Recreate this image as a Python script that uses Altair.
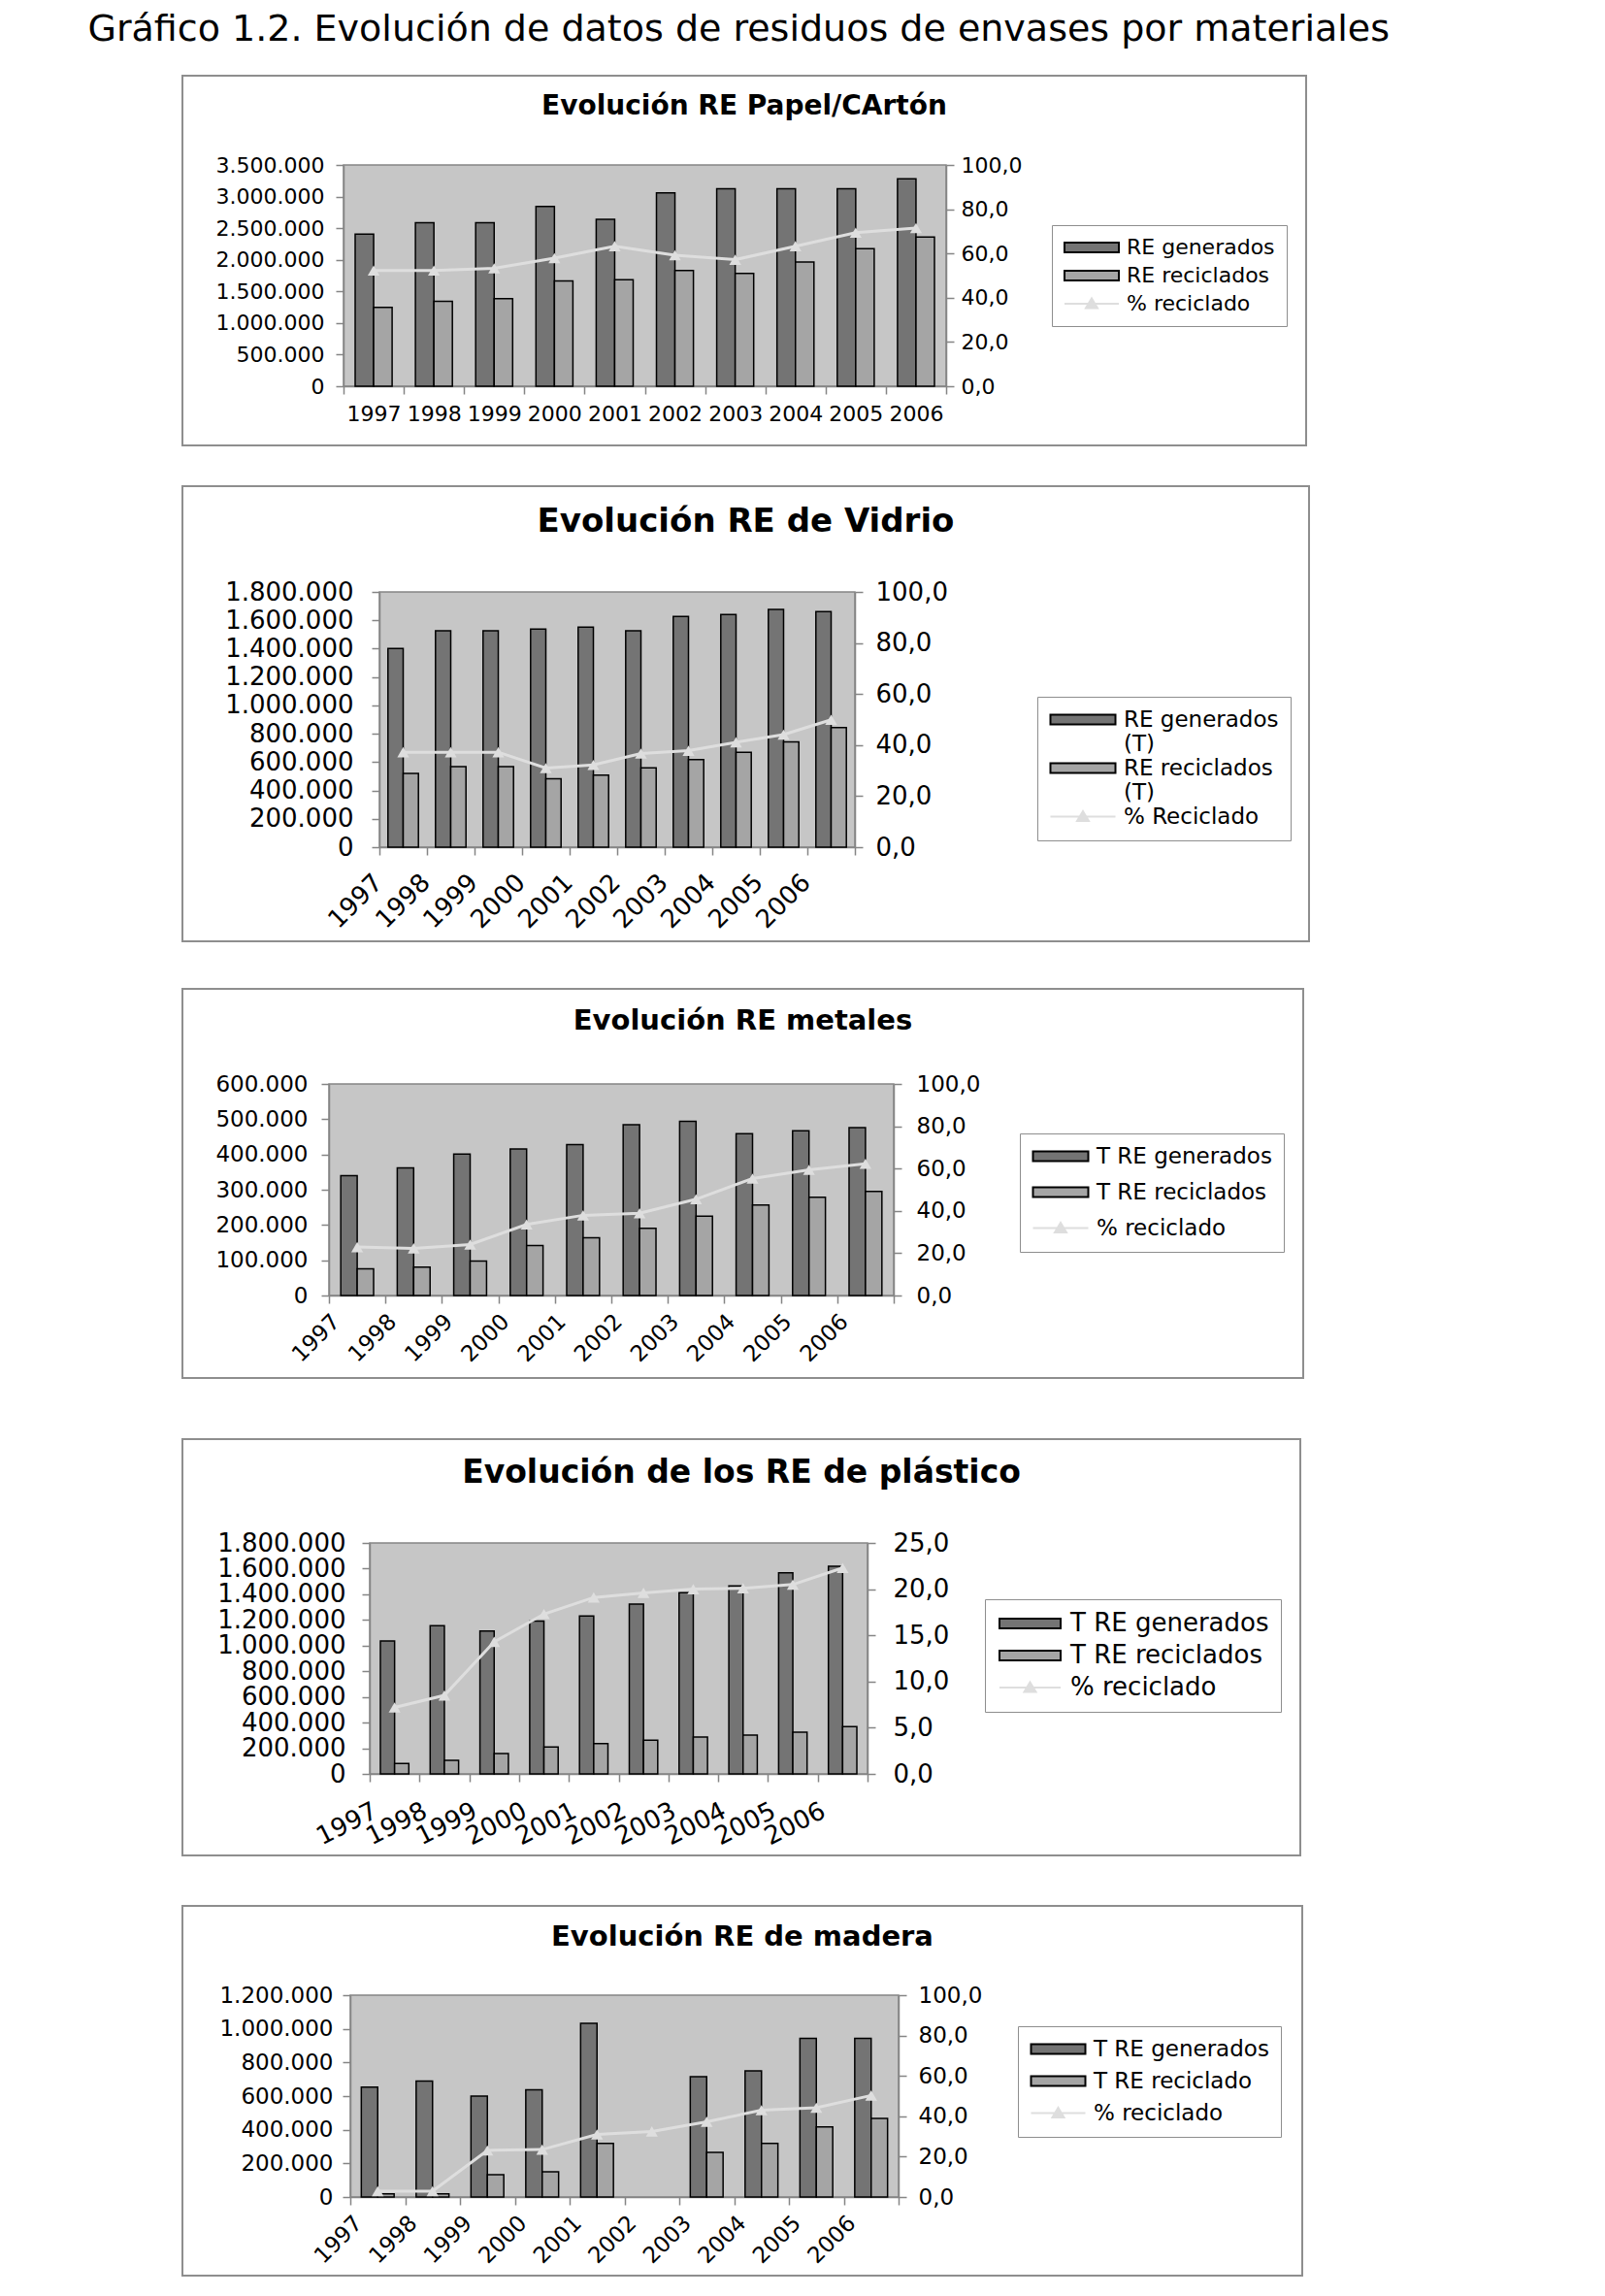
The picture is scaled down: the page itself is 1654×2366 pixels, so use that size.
import altair as alt
import pandas as pd

MAIN_TITLE = "Gráfico 1.2. Evolución de datos de residuos de envases por materiales"
YEARS = ["1997", "1998", "1999", "2000", "2001", "2002", "2003", "2004", "2005", "2006"]

# Papel / cartón
PAPEL_TITLE = "Evolución RE Papel/CArtón"
PAPEL_LABELS = ["RE generados", "RE reciclados", "% reciclado"]
PAPEL_GEN = [2405000, 2588000, 2588000, 2843000, 2639000, 3057000, 3123000, 3123000, 3123000, 3281000]
PAPEL_REC = [1248000, 1345000, 1386000, 1666000, 1686000, 1829000, 1783000, 1966000, 2175000, 2359000]
PAPEL_PCT = [52.3, 52.3, 53.3, 57.9, 63.3, 59.2, 57.2, 63.3, 69.4, 71.5]
PAPEL_LTICKS = [0, 500000, 1000000, 1500000, 2000000, 2500000, 3000000, 3500000]
PAPEL_RTICKS = [0, 20, 40, 60, 80, 100]

# Vidrio
VIDRIO_TITLE = "Evolución RE de Vidrio"
VIDRIO_LABELS = ["RE generados (T)", "RE reciclados (T)", "% Reciclado"]
VIDRIO_GEN = [1402000, 1526000, 1526000, 1538000, 1552000, 1526000, 1628000, 1641000, 1676000, 1662000]
VIDRIO_REC = [520000, 568000, 568000, 483000, 508000, 559000, 618000, 669000, 743000, 844000]
VIDRIO_PCT = [37.2, 37.2, 37.2, 31.0, 32.2, 36.7, 37.8, 41.1, 44.1, 49.9]
VIDRIO_LTICKS = [0, 200000, 400000, 600000, 800000, 1000000, 1200000, 1400000, 1600000, 1800000]
VIDRIO_RTICKS = [0, 20, 40, 60, 80, 100]

# Metales
METAL_TITLE = "Evolución RE metales"
METAL_LABELS = ["T RE generados", "T RE reciclados", "% reciclado"]
METAL_GEN = [339800, 361800, 401000, 415900, 427800, 484600, 493700, 458900, 467200, 476300]
METAL_REC = [76000, 80600, 98000, 142000, 164000, 190500, 225300, 256500, 278500, 295000]
METAL_PCT = [22.9, 22.3, 24.1, 33.6, 37.9, 38.9, 45.5, 55.3, 59.4, 62.3]
METAL_LTICKS = [0, 100000, 200000, 300000, 400000, 500000, 600000]
METAL_RTICKS = [0, 20, 40, 60, 80, 100]

# Plástico
PLAST_TITLE = "Evolución de los RE de plástico"
PLAST_LABELS = ["T RE generados", "T RE reciclados", "% reciclado"]
PLAST_GEN = [1036000, 1155000, 1114000, 1192000, 1230000, 1324000, 1412000, 1465000, 1568000, 1618000]
PLAST_REC = [81000, 106000, 159000, 209000, 237000, 262000, 287000, 302000, 325000, 368000]
PLAST_PCT = [7.2, 8.5, 14.3, 17.3, 19.1, 19.6, 20.0, 20.1, 20.5, 22.3]
PLAST_LTICKS = [0, 200000, 400000, 600000, 800000, 1000000, 1200000, 1400000, 1600000, 1800000]
PLAST_RTICKS = [0, 5, 10, 15, 20, 25]

# Madera
MADERA_TITLE = "Evolución RE de madera"
MADERA_LABELS = ["T RE generados", "T RE reciclado", "% reciclado"]
MADERA_GEN = [654000, 690000, 600000, 637000, 1032000, None, 715000, 750000, 943000, 943000]
MADERA_REC = [19000, 19000, 132000, 150000, 319000, None, 265000, 319000, 417000, 468000]
MADERA_PCT = [2.9, 2.9, 23.1, 23.5, 31.0, 32.5, 37.3, 43.0, 44.2, 50.3]
MADERA_LTICKS = [0, 200000, 400000, 600000, 800000, 1000000, 1200000]
MADERA_RTICKS = [0, 20, 40, 60, 80, 100]

FONT = "DejaVu Sans"
DARK = "#747474"
LIGHT = "#a5a5a5"
LINE = "#dedede"
PLOT = "#c6c6c6"
AXIS = "#858585"
FRAME = "#8e8e8e"

LEFT_EXPR = "replace(format(datum.value, ','), regexp(',', 'g'), '.')"
RIGHT_EXPR = "replace(format(datum.value, '.1f'), '.', ',')"
MULTI_EXPR = "indexof(datum.label, ' (T)') > 0 ? [replace(datum.label, ' (T)', ''), '(T)'] : datum.label"

PANELS = [
    dict(title=PAPEL_TITLE, tfs=28, tcenter=-62, labels=PAPEL_LABELS, gen=PAPEL_GEN, rec=PAPEL_REC,
         pct=PAPEL_PCT, lt=PAPEL_LTICKS, rt=PAPEL_RTICKS, W=621, H=228, frame=(-166, -92, 371, 61), gap=0,
         leg=(730, 62), rp=7, afs=22, lfs=22, xang=0, xoff=0, xpad=10, lpl=12, lpr=7, sym=56, po=0.63, multi=False),
    dict(title=VIDRIO_TITLE, tfs=34, tcenter=-75, labels=VIDRIO_LABELS, gen=VIDRIO_GEN, rec=VIDRIO_REC,
         pct=VIDRIO_PCT, lt=VIDRIO_LTICKS, rt=VIDRIO_RTICKS, W=490, H=263, frame=(-203, -109, 468, 97), gap=39,
         leg=(678, 108), rp=1, afs=26, lfs=23, xang=-45, xoff=-26, xpad=24, lpl=19, lpr=13, sym=67, po=0.56, multi=True),
    dict(title=METAL_TITLE, tfs=29, tcenter=-67, labels=METAL_LABELS, gen=METAL_GEN, rec=METAL_REC,
         pct=METAL_PCT, lt=METAL_LTICKS, rt=METAL_RTICKS, W=582, H=218, frame=(-151, -98, 422, 85), gap=46,
         leg=(712, 51), rp=13, afs=23, lfs=23, xang=-45, xoff=-22, xpad=15, lpl=14, lpr=15, sym=57, po=0.72, multi=False),
    dict(title=PLAST_TITLE, tfs=33, tcenter=-75, labels=PLAST_LABELS, gen=PLAST_GEN, rec=PLAST_REC,
         pct=PLAST_PCT, lt=PLAST_LTICKS, rt=PLAST_RTICKS, W=513, H=238, frame=(-193, -107, 446, 84), gap=60,
         leg=(634, 58), rp=7, afs=26, lfs=26, xang=-27, xoff=-20, xpad=28, lpl=17, lpr=18, sym=63, po=0.75, multi=False),
    dict(title=MADERA_TITLE, tfs=29, tcenter=-62, labels=MADERA_LABELS, gen=MADERA_GEN, rec=MADERA_REC,
         pct=MADERA_PCT, lt=MADERA_LTICKS, rt=MADERA_RTICKS, W=565, H=208, frame=(-173, -92, 416, 81), gap=49,
         leg=(688, 32), rp=9, afs=23, lfs=23, xang=-45, xoff=-20, xpad=15, lpl=10, lpr=12, sym=56, po=0.67, multi=False),
]

INDEP_SCALES = dict(xOffset="independent", color="independent", fill="independent",
                    stroke="independent", shape="independent")
INDEP_LEGENDS = dict(fill="independent", stroke="independent", shape="independent")


def make_panel(p):
    W, H = p["W"], p["H"]
    fl, ft, fr, fb = p["frame"]
    labels = p["labels"]
    bars_df = pd.DataFrame({
        "year": YEARS + YEARS,
        "serie": [labels[0]] * len(YEARS) + [labels[1]] * len(YEARS),
        "valor": p["gen"] + p["rec"],
    })
    line_df = pd.DataFrame({"year": YEARS, "pct": p["pct"]})
    leg_df = pd.DataFrame({"serie": labels})
    one = pd.DataFrame({"k": [0]})

    if p["xang"] == 0:
        align, base = "center", "top"
    else:
        align, base = "right", "middle"
    xaxis = alt.Axis(title=None, tickBand="extent", labelAngle=p["xang"], labelAlign=align,
                     labelBaseline=base, labelOffset=p["xoff"], labelPadding=p["xpad"],
                     labelFont=FONT, labelFontSize=p["afs"], labelColor="black",
                     tickColor=AXIS, tickSize=8, tickWidth=1.5, domainColor=AXIS, domainWidth=1.5,
                     labelOverlap=False, labelLimit=400)
    xenc = alt.X("year:N", sort=YEARS, scale=alt.Scale(paddingInner=0, paddingOuter=0), axis=xaxis)

    lmax = p["lt"][-1]
    rmax = p["rt"][-1]

    frame = alt.Chart(one).mark_rect(fill="white", fillOpacity=0, stroke=FRAME, strokeWidth=2).encode(
        x=alt.value(fl), x2=alt.value(W + fr), y=alt.value(ft), y2=alt.value(H + fb))
    layers = [frame]
    if p["gap"] > 0:
        spacer = alt.Chart(one).mark_rect(opacity=0).encode(
            x=alt.value(fl), x2=alt.value(W + fr), y=alt.value(ft - p["gap"]), y2=alt.value(ft))
        layers.append(spacer)

    bars = alt.Chart(bars_df).mark_bar(stroke="black", strokeWidth=1.5).encode(
        x=xenc,
        xOffset=alt.XOffset("serie:N", sort=labels[:2],
                            scale=alt.Scale(domain=labels[:2], paddingOuter=p["po"], paddingInner=0)),
        y=alt.Y("valor:Q", scale=alt.Scale(domain=[0, lmax], nice=False),
                axis=alt.Axis(orient="left", title=None, values=p["lt"], labelExpr=LEFT_EXPR,
                              labelFont=FONT, labelFontSize=p["afs"], labelColor="black",
                              labelPadding=p["lpl"], tickColor=AXIS, tickSize=8, tickWidth=1.5,
                              domainColor=AXIS, domainWidth=1.5, grid=False, labelOverlap=False)),
        color=alt.Color("serie:N", scale=alt.Scale(domain=labels[:2], range=[DARK, LIGHT]), legend=None),
    )
    layers.append(bars)

    line = alt.Chart(line_df).mark_line(
        color=LINE, strokeWidth=3,
        point=alt.OverlayMarkDef(shape="triangle-up", filled=True, size=150, color=LINE),
    ).encode(
        x=xenc,
        y=alt.Y("pct:Q", scale=alt.Scale(domain=[0, rmax], nice=False),
                axis=alt.Axis(orient="right", title=None, values=p["rt"], labelExpr=RIGHT_EXPR,
                              labelFont=FONT, labelFontSize=p["afs"], labelColor="black",
                              labelPadding=p["lpr"], tickColor=AXIS, tickSize=8, tickWidth=1.5,
                              domainColor=AXIS, domainWidth=1.5, grid=False, labelOverlap=False)),
    )
    layers.append(line)

    L = p["sym"]
    x1, x2 = -1.0, L / 10.0 - 1.0
    mid = (x1 + x2) / 2
    rect_path = f"M{x1},-0.5H{x2}V0.5H{x1}Z"
    line_path = f"M{x1},0H{x2}M{mid},-0.55L{mid + 0.6},0.45H{mid - 0.6}Z"

    leg_kwargs = dict(title=None, orient="none", legendX=p["leg"][0], legendY=p["leg"][1],
                      direction="vertical", fillColor="white", strokeColor=FRAME, padding=12,
                      rowPadding=p["rp"], symbolSize=400, symbolStrokeWidth=2, symbolOpacity=1,
                      labelFont=FONT, labelFontSize=p["lfs"], labelColor="black",
                      labelOffset=L + 7 - 20, labelLimit=600)
    if p["multi"]:
        leg_kwargs["labelExpr"] = MULTI_EXPR
    legend = alt.Legend(**leg_kwargs)

    leg_layer = alt.Chart(leg_df).mark_point(filled=True, opacity=0, size=400).encode(
        x=alt.value(0), y=alt.value(0),
        fill=alt.Fill("serie:N", sort=labels, scale=alt.Scale(domain=labels, range=[DARK, LIGHT, LINE]),
                      legend=legend),
        stroke=alt.Stroke("serie:N", sort=labels,
                          scale=alt.Scale(domain=labels, range=["#000000", "#000000", LINE]), legend=legend),
        shape=alt.Shape("serie:N", sort=labels,
                        scale=alt.Scale(domain=labels, range=[rect_path, rect_path, line_path]), legend=legend),
    )
    layers.append(leg_layer)

    y1 = ft - p["gap"]
    toff = y1 - p["tcenter"] - 1.6 * p["tfs"]

    panel = alt.layer(*layers).resolve_scale(y="independent").properties(
        width=W, height=H,
        title=alt.TitleParams(text=p["title"], font=FONT, fontSize=p["tfs"], fontWeight="bold",
                              color="black", anchor="middle", frame="bounds", baseline="bottom",
                              offset=toff),
    )

    blank = alt.Chart(one).mark_point(opacity=0).encode(x=alt.value(0), y=alt.value(0)).properties(
        width=1, height=1, view=alt.ViewBackground(fill="transparent", stroke="transparent"))

    return alt.hconcat(blank, panel, spacing=0).resolve_scale(**INDEP_SCALES).resolve_legend(**INDEP_LEGENDS)


rows = [make_panel(p) for p in PANELS]

chart = alt.vconcat(*rows, spacing=0).resolve_scale(**INDEP_SCALES).resolve_legend(**INDEP_LEGENDS).properties(
    title=alt.TitleParams(text=MAIN_TITLE, font=FONT, fontSize=38, fontWeight="normal", color="black",
                          anchor="start", frame="bounds", baseline="bottom", dx=-88, offset=-12),
    padding={"left": 82, "top": 4, "right": 10, "bottom": 10},
).configure_view(fill=PLOT, stroke=AXIS, strokeWidth=1.5)

chart.save("out.html", embed_options={"renderer": "svg", "actions": False})
